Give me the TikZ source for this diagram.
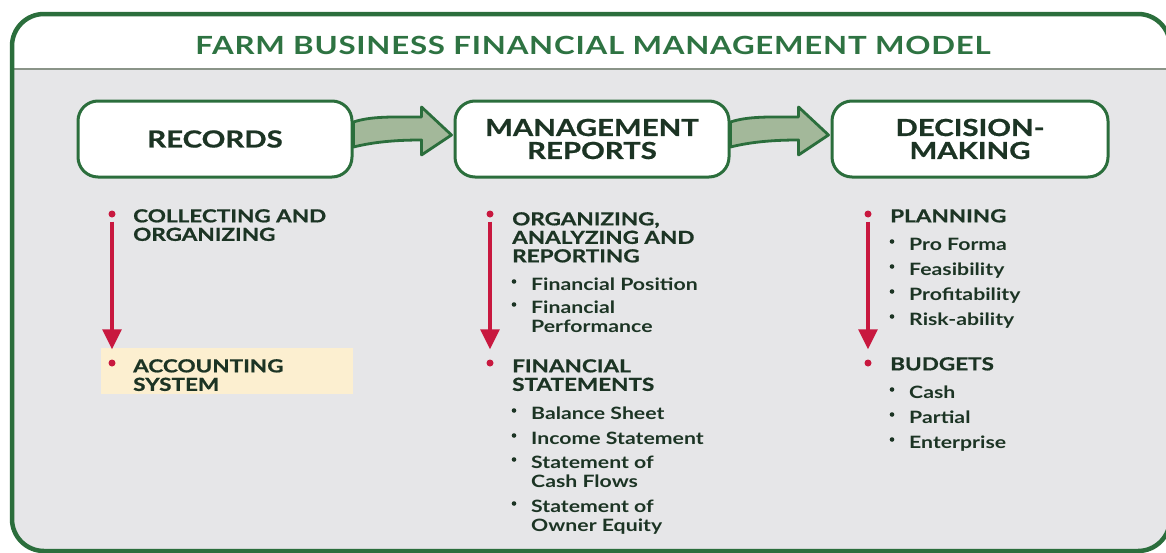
\documentclass[tikz,border=0pt]{standalone}
\usepackage{fontspec}
\setmainfont{Lato}[FakeStretch=1.25]
\newfontfamily\heavyfont{Lato}[FakeStretch=1.25, BoldFeatures={FakeBold=0.8}]
\newfontfamily\titlefont{Lato}[FakeStretch=1.25, LetterSpace=3]
\usetikzlibrary{arrows.meta}

\definecolor{framegreen}{HTML}{2B6E3C}
\definecolor{titlegreen}{HTML}{2E7342}
\definecolor{panelgray}{HTML}{E6E6E8}
\definecolor{rulegray}{HTML}{8A9488}
\definecolor{inkdark}{HTML}{1C3424}
\definecolor{crimson}{HTML}{C8183F}
\definecolor{flowfill}{HTML}{A3B89A}
\definecolor{cream}{HTML}{FCEFD0}

\tikzset{
  stagebox/.style={draw=framegreen, line width=3pt, fill=white, rounded corners=20pt,
    minimum width=274pt, minimum height=76pt, align=center, text=inkdark,
    font=\heavyfont\bfseries\fontsize{23.5}{23}\selectfont},
  flowarrow/.style={draw=framegreen, line width=2.8pt, fill=flowfill, line join=round},
  heading/.style={anchor=north west, inner sep=0pt, align=left, text=inkdark,
    font=\heavyfont\bfseries\fontsize{18}{18.5}\selectfont},
  subtext/.style={anchor=north west, inner sep=0pt, align=left, text=inkdark,
    font=\bfseries\fontsize{17}{19}\selectfont},
  reddot/.style={circle, fill=crimson, inner sep=0pt, minimum size=7pt},
  stepline/.style={draw=crimson, line width=3.2pt, -{Triangle[width=19pt,length=20pt]},
    shorten <=4pt, shorten >=10pt},
  subdot/.style={circle, fill=inkdark, inner sep=0pt, minimum size=4.6pt},
}

% sub item: bullet plus text, #1 name, #2 x, #3 top, #4 text
\newcommand\subentry[4]{%
  \node[subdot] (#1dot) at (#2-17,#3+3.5) {};
  \node[subtext] (#1) at (#2,#3) {#4};
}

\begin{document}
\begin{tikzpicture}[x=1pt,y=-1pt]
\useasboundingbox (0,0) rectangle (1166,552);
\begin{scope}
  \clip (0,0) rectangle (1166,552);
  \fill[white] (0,0) rectangle (1166,552);
  % panel with white header band
  \fill[panelgray, rounded corners=32pt] (12,14) rectangle (1170,551);
  \begin{scope}
    \clip[rounded corners=32pt] (12,14) rectangle (1170,551);
    \fill[white] (0,0) rectangle (1170,69);
  \end{scope}
  \draw[rulegray, line width=2pt] (14,69) -- (1168,69);
  \draw[framegreen, line width=4.5pt, rounded corners=32pt] (12,14) rectangle (1170,551);
\end{scope}

% title
\node[text=titlegreen, font=\titlefont\bfseries\fontsize{25}{25}\selectfont] (title) at (593,45)
  {FARM BUSINESS FINANCIAL MANAGEMENT MODEL};

% stage boxes
\node[stagebox] (rec) at (215,139) {RECORDS};
\node[stagebox] (rep) at (592,139) {MANAGEMENT\\REPORTS};
\node[stagebox, minimum width=276pt] (dec) at (970,139) {DECISION-\\MAKING};

% block arrows between the stages
\foreach \src in {rec,rep}{
  \draw[flowarrow, shift={(\src.east)}]
    (0,-17) .. controls (18,-23) and (40,-22) .. (68,-22)
    -- (68,-32) -- (98,-4) -- (68,16) -- (68,1)
    .. controls (42,1) and (20,3) .. (0,8) -- cycle;
}

% highlight behind the accounting system item
\fill[cream] (101,348) rectangle (353,394);

% column 1
\node[reddot] (c1a) at (112,214) {};
\node[reddot] (c1b) at (112,363) {};
\draw[stepline] (c1a) -- (c1b);
\node[heading] (c1h1) at (133,209) {COLLECTING AND\\ORGANIZING};
\node[heading] (c1h2) at (133,359) {ACCOUNTING\\SYSTEM};

% column 2
\node[reddot] (c2a) at (490,214) {};
\node[reddot] (c2b) at (490,363) {};
\draw[stepline] (c2a) -- (c2b);
\node[heading] (c2h1) at (512,212) {ORGANIZING,\\ANALYZING AND\\REPORTING};
\subentry{c2s1}{531}{278}{Financial Position}
\subentry{c2s2}{531}{301}{Financial\\Performance}
\node[heading] (c2h2) at (512,359) {FINANCIAL\\STATEMENTS};
\subentry{c2s3}{531}{407}{Balance Sheet}
\subentry{c2s4}{531}{432}{Income Statement}
\subentry{c2s5}{531}{456}{Statement of\\Cash Flows}
\subentry{c2s6}{531}{500}{Statement of\\Owner Equity}

% column 3
\node[reddot] (c3a) at (868,214) {};
\node[reddot] (c3b) at (868,363) {};
\draw[stepline] (c3a) -- (c3b);
\node[heading] (c3h1) at (890,209) {PLANNING};
\subentry{c3s1}{909}{238}{Pro Forma}
\subentry{c3s2}{909}{263}{Feasibility}
\subentry{c3s3}{909}{288}{Profitability}
\subentry{c3s4}{909}{313}{Risk-ability}
\node[heading] (c3h2) at (890,357) {BUDGETS};
\subentry{c3s5}{909}{386}{Cash}
\subentry{c3s6}{909}{411}{Partial}
\subentry{c3s7}{909}{436}{Enterprise}
\end{tikzpicture}
\end{document}
